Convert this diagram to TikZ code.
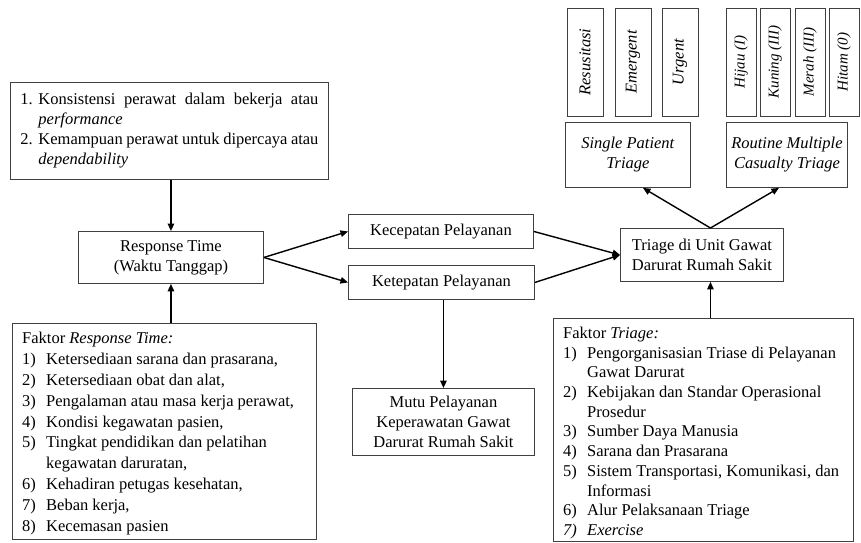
\documentclass[tikz,border=0pt]{standalone}
\usepackage{fontspec}
\setmainfont{Liberation Serif}
\usetikzlibrary{arrows.meta}
\newcommand{\itm}[2]{\makebox[24pt][l]{#1}#2}
\newcommand{\cnt}{\hspace*{24pt}}
\begin{document}
\begin{tikzpicture}[x=1pt,y=-1pt,
  box/.style={draw=black!75, line width=0.9pt, inner sep=0pt, align=center, font=\fontsize{16.5}{20}\selectfont},
  txt/.style={inner sep=0pt, align=left},
  vbox/.style={box, rotate=90, minimum width=108pt},
  arr/.style={line width=1.4pt, -{Triangle[length=7.5pt,width=6.5pt]}},
]
\useasboundingbox (0,0) rectangle (861,542);

% top-left box
\node[box, anchor=north west, minimum width=318pt, minimum height=97pt] (tl) at (10,82)
  {\begin{tabular}{@{}l@{}}
   \makebox[298pt][s]{\makebox[18pt][l]{1.}Konsistensi perawat dalam bekerja atau}\\
   \hspace*{18pt}\textit{performance}\\
   \makebox[298pt][s]{\spaceskip=0.18em plus 1em\makebox[18pt][l]{2.}Kemampuan perawat untuk dipercaya atau}\\
   \hspace*{18pt}\textit{dependability}
   \end{tabular}};

% main boxes
\node[box, anchor=north west, minimum width=185pt, minimum height=52pt] (rt) at (78,231)
  {Response Time\\(Waktu Tanggap)};
\node[box, anchor=north west, minimum width=185pt, minimum height=34pt] (kec) at (348,214)
  {Kecepatan Pelayanan};
\node[box, anchor=north west, minimum width=186pt, minimum height=34pt] (ket) at (348,265)
  {Ketepatan Pelayanan};
\node[box, anchor=north west, minimum width=163pt, minimum height=53pt] (tri) at (620,228)
  {Triage di Unit Gawat\\Darurat Rumah Sakit};
\node[box, anchor=north west, minimum width=182pt, minimum height=67pt] (mutu) at (352,388)
  {Mutu Pelayanan\\Keperawatan Gawat\\Darurat Rumah Sakit};

% top-right boxes
\node[box, anchor=north west, minimum width=125pt, minimum height=65pt] (spt) at (565,122)
  {\textit{Single Patient}\\\textit{Triage}};
\node[box, anchor=north west, minimum width=121pt, minimum height=65pt] (rmt) at (726,122)
  {\textit{Routine Multiple}\\\textit{Casualty Triage}};

\node[vbox, minimum height=36pt] (res) at (585,62) {\textit{Resusitasi}};
\node[vbox, minimum height=36pt] (eme) at (633,62) {\textit{Emergent}};
\node[vbox, minimum height=36pt] (urg) at (680,62) {\textit{Urgent}};
\node[vbox, minimum height=30pt, font=\fontsize{15}{17}\selectfont] (hij) at (741,62) {\textit{Hijau (I)}};
\node[vbox, minimum height=30pt, font=\fontsize{15}{17}\selectfont] (kun) at (775,62) {\textit{Kuning (III)}};
\node[vbox, minimum height=30pt, font=\fontsize{15}{17}\selectfont] (mer) at (810,62) {\textit{Merah (III)}};
\node[vbox, minimum height=30pt, font=\fontsize{15}{17}\selectfont] (hit) at (844,62) {\textit{Hitam (0)}};

% factor boxes
\node[box, anchor=north west, minimum width=304pt, minimum height=216pt] (rtf) at (12,323) {};
\node[txt, anchor=west, font=\fontsize{16.5}{20.8}\selectfont] (rtft) at ([xshift=10pt,yshift=-2pt]rtf.west)
  {Faktor \textit{Response Time:}\\
   \itm{1)}{Ketersediaan sarana dan prasarana,}\\
   \itm{2)}{Ketersediaan obat dan alat,}\\
   \itm{3)}{Pengalaman atau masa kerja perawat,}\\
   \itm{4)}{Kondisi kegawatan pasien,}\\
   \itm{5)}{Tingkat pendidikan dan pelatihan}\\
   \cnt kegawatan daruratan,\\
   \itm{6)}{Kehadiran petugas kesehatan,}\\
   \itm{7)}{Beban kerja,}\\
   \itm{8)}{Kecemasan pasien}};

\node[box, anchor=north west, minimum width=300pt, minimum height=223pt] (tf) at (553,318) {};
\node[txt, anchor=west, font=\fontsize{16.5}{19.7}\selectfont] (tft) at ([xshift=10pt,yshift=-3pt]tf.west)
  {Faktor \textit{Triage:}\\
   \itm{1)}{Pengorganisasian Triase di Pelayanan}\\
   \cnt Gawat Darurat\\
   \itm{2)}{Kebijakan dan Standar Operasional}\\
   \cnt Prosedur\\
   \itm{3)}{Sumber Daya Manusia}\\
   \itm{4)}{Sarana dan Prasarana}\\
   \itm{5)}{Sistem Transportasi, Komunikasi, dan}\\
   \cnt Informasi\\
   \itm{6)}{Alur Pelaksanaan Triage}\\
   \itm{\textit{7)}}{\textit{Exercise}}};

% connectors
\coordinate (tritop) at ([xshift=8.5pt]tri.north);
\coordinate (tribot) at ([xshift=8.5pt]tri.south);
\draw[arr] (rt.north |- tl.south) -- (rt.north);
\draw[arr] (rt.south |- rtf.north) -- (rt.south);
\draw[arr] (rt.east) -- (kec.west);
\draw[arr] (rt.east) -- (ket.west);
\draw[arr] (kec.east) -- (tri.west);
\draw[arr] (ket.east) -- (tri.west);
\draw[arr] (mutu.north |- ket.south) -- (mutu.north);
\draw[arr] (tribot |- tf.north) -- (tribot);
\draw[arr] (tritop) -- ([xshift=15pt]spt.south);
\draw[arr] (tritop) -- ([xshift=-8pt]rmt.south);
\end{tikzpicture}
\end{document}
